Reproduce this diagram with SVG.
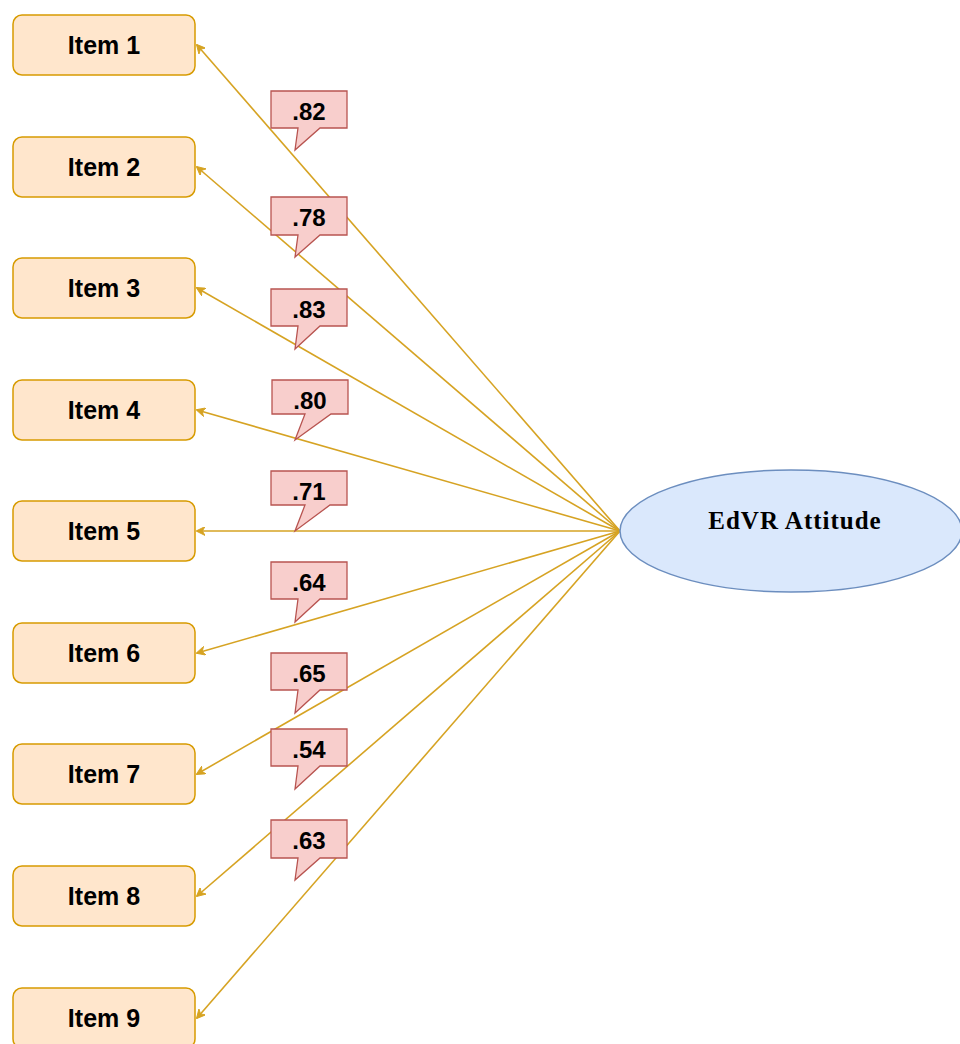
<svg xmlns="http://www.w3.org/2000/svg" width="960" height="1044" viewBox="0 0 960 1044">
<style>
.item rect{fill:#ffe6cc;stroke:#d79b00;stroke-width:1.5}
.item text{font-family:"Liberation Sans",Arial,sans-serif;font-weight:bold;font-size:25px;fill:#000;text-anchor:middle}
.conn line{stroke:#d6a323;stroke-width:1.6;fill:none}
.call path{fill:#f8cecc;stroke:#b85450;stroke-width:1.3}
.call text{font-family:"Liberation Sans",Arial,sans-serif;font-weight:bold;font-size:24px;fill:#000;text-anchor:middle}
</style>
<defs>
<marker id="ah" viewBox="0 0 10 10" refX="9" refY="5" markerWidth="9" markerHeight="9" orient="auto-start-reverse" markerUnits="userSpaceOnUse">
<path d="M0,0 L10,5 L0,10 L3,5 Z" fill="#d6a323" stroke="#d6a323" stroke-width="1"/>
</marker>
</defs>
<rect width="960" height="1044" fill="#fff"/>
<g id="connectors" class="conn">
<line x1="620" y1="531" x2="197" y2="45" marker-end="url(#ah)"/>
<line x1="620" y1="531" x2="197" y2="167" marker-end="url(#ah)"/>
<line x1="620" y1="531" x2="197" y2="288" marker-end="url(#ah)"/>
<line x1="620" y1="531" x2="197" y2="410" marker-end="url(#ah)"/>
<line x1="620" y1="531" x2="197" y2="531" marker-end="url(#ah)"/>
<line x1="620" y1="531" x2="197" y2="653" marker-end="url(#ah)"/>
<line x1="620" y1="531" x2="197" y2="774" marker-end="url(#ah)"/>
<line x1="620" y1="531" x2="197" y2="896" marker-end="url(#ah)"/>
<line x1="620" y1="531" x2="197" y2="1018" marker-end="url(#ah)"/>
</g>
<g id="item1" class="item"><rect x="13" y="15" width="182" height="60" rx="9"/><text x="104" y="54">Item 1</text></g>
<g id="item2" class="item"><rect x="13" y="137" width="182" height="60" rx="9"/><text x="104" y="176">Item 2</text></g>
<g id="item3" class="item"><rect x="13" y="258" width="182" height="60" rx="9"/><text x="104" y="297">Item 3</text></g>
<g id="item4" class="item"><rect x="13" y="380" width="182" height="60" rx="9"/><text x="104" y="419">Item 4</text></g>
<g id="item5" class="item"><rect x="13" y="501" width="182" height="60" rx="9"/><text x="104" y="540">Item 5</text></g>
<g id="item6" class="item"><rect x="13" y="623" width="182" height="60" rx="9"/><text x="104" y="662">Item 6</text></g>
<g id="item7" class="item"><rect x="13" y="744" width="182" height="60" rx="9"/><text x="104" y="783">Item 7</text></g>
<g id="item8" class="item"><rect x="13" y="866" width="182" height="60" rx="9"/><text x="104" y="905">Item 8</text></g>
<g id="item9" class="item"><rect x="13" y="988" width="182" height="60" rx="9"/><text x="104" y="1027">Item 9</text></g>
<g id="edvr">
<ellipse cx="791" cy="531" rx="171" ry="61" fill="#dae8fc" stroke="#6c8ebf" stroke-width="1.5"/>
<text x="795" y="529" font-family="'Liberation Serif','Times New Roman',serif" font-weight="bold" font-size="25" letter-spacing="1" text-anchor="middle">EdVR Attitude</text>
</g>
<g id="callout82" class="call"><path d="M271,91 H347 V128 H320 L295,150 L298,128 H271 Z"/><text x="309" y="120">.82</text></g>
<g id="callout78" class="call"><path d="M271,197 H347 V235 H320 L295,257 L298,235 H271 Z"/><text x="309" y="226">.78</text></g>
<g id="callout83" class="call"><path d="M271,289 H347 V326 H320 L295,349 L298,326 H271 Z"/><text x="309" y="318">.83</text></g>
<g id="callout80" class="call"><path d="M272,380 H348 V414 H331 L295,440 L305,414 H272 Z"/><text x="310" y="409">.80</text></g>
<g id="callout71" class="call"><path d="M271,471 H347 V505 H330 L295,531 L305,505 H271 Z"/><text x="309" y="500">.71</text></g>
<g id="callout64" class="call"><path d="M271,562 H347 V599 H320 L295,622 L298,599 H271 Z"/><text x="309" y="591">.64</text></g>
<g id="callout65" class="call"><path d="M271,653 H347 V690 H320 L295,713 L298,690 H271 Z"/><text x="309" y="682">.65</text></g>
<g id="callout54" class="call"><path d="M271,729 H347 V766 H320 L295,789 L298,766 H271 Z"/><text x="309" y="758">.54</text></g>
<g id="callout63" class="call"><path d="M271,820 H347 V858 H320 L295,880 L298,858 H271 Z"/><text x="309" y="849">.63</text></g>
</svg>
